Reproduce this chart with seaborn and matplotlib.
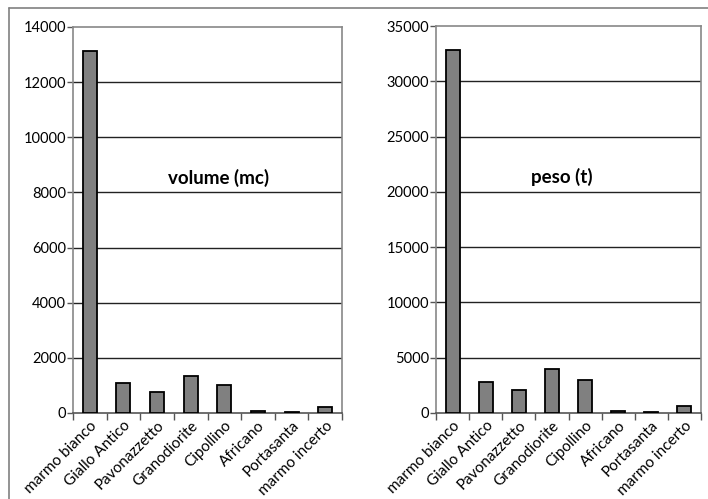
import matplotlib
matplotlib.use("Agg")
import matplotlib.pyplot as plt
import matplotlib.transforms as mtransforms
import seaborn as sns
import pandas as pd
from matplotlib.lines import Line2D

categories = ["marmo bianco", "Giallo Antico", "Pavonazzetto", "Granodiorite",
              "Cipollino", "Africano", "Portasanta", "marmo incerto"]
volume_mc = [13130, 1077, 750, 1353, 1015, 70, 45, 230]
peso_t = [32830, 2776, 2053, 4006, 2957, 150, 100, 660]

volume_ticks = [0, 2000, 4000, 6000, 8000, 10000, 12000, 14000]
peso_ticks = [0, 5000, 10000, 15000, 20000, 25000, 30000, 35000]

sns.set_theme(style="white")
plt.rcParams["font.family"] = ["Lato", "DejaVu Sans"]

W, H = 708, 499
fig = plt.figure(figsize=(W / 100, H / 100), dpi=100)

# outer frame (cropped at right and bottom)
fig.add_artist(Line2D([9 / W, 9 / W], [1 - 8 / H, 0], transform=fig.transFigure,
                      color="#808080", lw=1.2))
fig.add_artist(Line2D([9 / W, 1], [1 - 8 / H, 1 - 8 / H], transform=fig.transFigure,
                      color="#808080", lw=1.2))

df_v = pd.DataFrame({"cat": categories, "val": volume_mc})
df_p = pd.DataFrame({"cat": categories, "val": peso_t})

specs = [
    (df_v, volume_ticks, [73, 27, 342, 413], "volume (mc)", (0.54, 0.61)),
    (df_p, peso_ticks, [436, 26, 701, 413], "peso (t)", (0.475, 0.61)),
]

offset = mtransforms.ScaledTranslation(5 / 100, 0, fig.dpi_scale_trans)

for df, yt, (x0, y0, x1, y1), title, (tx, ty) in specs:
    ax = fig.add_axes([x0 / W, 1 - y1 / H, (x1 - x0) / W, (y1 - y0) / H])
    sns.barplot(data=df, x="cat", y="val", color="#808080", saturation=1,
                edgecolor="black", linewidth=1.3, width=0.42, ax=ax, zorder=3)
    ax.set_xlim(-0.5, len(categories) - 0.5)
    ax.set_ylim(yt[0], yt[-1])
    ax.set_yticks(yt)
    ax.set_yticklabels([str(v) for v in yt], fontsize=10.5, color="black")
    ax.set_xticks(range(len(categories)))
    ax.set_xticklabels(categories, rotation=45, ha="right", va="top",
                       rotation_mode="anchor", fontsize=11, color="black")
    for lab in ax.get_xticklabels():
        lab.set_transform(lab.get_transform() + offset)
    ax.set_xticks([i - 0.5 for i in range(len(categories) + 1)], minor=True)
    ax.tick_params(axis="x", which="major", length=0, pad=4)
    ax.tick_params(axis="x", which="minor", length=5, width=1, color="#555555",
                   direction="out", bottom=True)
    ax.tick_params(axis="y", which="major", length=4, width=1, color="#555555",
                   direction="out", left=True, pad=1)
    for yv in yt[1:-1]:
        ax.axhline(yv, color="#222222", lw=1.0, zorder=1)
    for side in ["top", "right", "left"]:
        ax.spines[side].set_color("#888888")
        ax.spines[side].set_linewidth(1.2)
    ax.spines["bottom"].set_color("#555555")
    ax.spines["bottom"].set_linewidth(1.2)
    ax.grid(False)
    ax.set_xlabel("")
    ax.set_ylabel("")
    ax.text(tx, ty, title, transform=ax.transAxes, ha="center", va="center",
            fontsize=13.5, fontweight="bold", color="black")

fig.savefig("out.png", dpi=100)
